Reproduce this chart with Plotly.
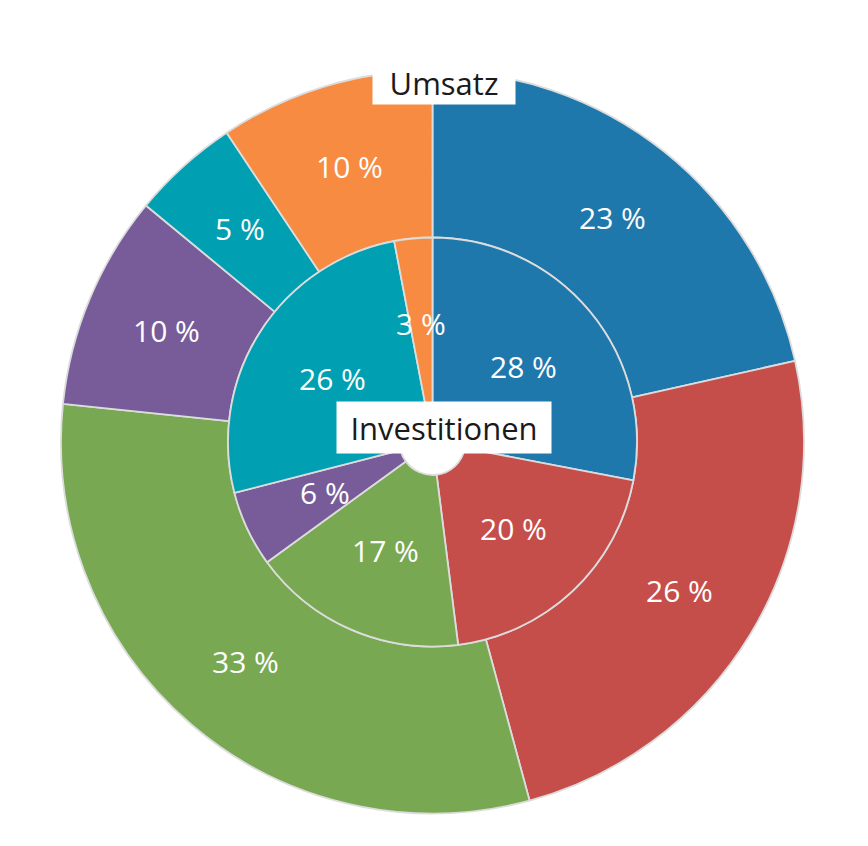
import math
import plotly.graph_objects as go

categories = ["A", "B", "C", "D", "E", "F"]
umsatz_values = [23, 26, 33, 10, 5, 10]
invest_values = [28, 20, 17, 6, 26, 3]
colors = ["#1F78AC", "#C54E4B", "#78A852", "#785C99", "#00A0B2", "#F68B41"]
outer_title = "Umsatz"
inner_title = "Investitionen"

W, H = 868, 846
OFF = 8  # page body margin
cx, cy = 432.5 - OFF, 442.0 - OFF
r_out, r_mid, r_hole = 371.5, 204.5, 33.0

def dom(r):
    yb = H - cy
    return dict(x=[(cx - r) / W, (cx + r) / W], y=[(yb - r) / H, (yb + r) / H])

font_fam = "Open Sans"
line = dict(color="#DCDCDC", width=1.8)

fig = go.Figure()
for vals, r1, r0 in [(umsatz_values, r_out, r_mid), (invest_values, r_mid, r_hole)]:
    fig.add_trace(go.Pie(
        labels=categories, values=vals, sort=False, direction="clockwise",
        rotation=0, hole=r0 / r1, domain=dom(r1),
        marker=dict(colors=colors, line=line),
        textinfo="none", hoverinfo="label+value", showlegend=False,
    ))
    # value labels at the middle of each ring segment
    total = sum(vals)
    cum = 0
    rm = (r1 + r0) / 2
    for v in vals:
        a = math.radians((cum + v / 2) / total * 360)
        cum += v
        px = cx + rm * math.sin(a)
        py = cy - rm * math.cos(a)
        fig.add_annotation(x=px / W, y=1 - py / H, xref="paper", yref="paper",
                           text=f"{v} %", showarrow=False,
                           xanchor="center", yanchor="middle",
                           font=dict(size=30, color="white", family=font_fam))

fig.add_annotation(x=(444 - OFF) / W, y=1 - (83 - OFF) / H, xref="paper", yref="paper",
                   text=outer_title, showarrow=False, bgcolor="white",
                   xanchor="center", yanchor="middle",
                   width=142, height=42, borderpad=0,
                   font=dict(size=31, color="#1a1a1a", family=font_fam))
fig.add_annotation(x=(444 - OFF) / W, y=1 - (427.5 - OFF) / H, xref="paper", yref="paper",
                   text=inner_title, showarrow=False, bgcolor="white",
                   xanchor="center", yanchor="middle",
                   width=214, height=51, borderpad=0,
                   font=dict(size=31, color="#1a1a1a", family=font_fam))

fig.update_layout(
    width=W, height=H, margin=dict(l=0, r=0, t=0, b=0),
    paper_bgcolor="white", plot_bgcolor="white",
    showlegend=False,
)
fig.write_html("out.html")
